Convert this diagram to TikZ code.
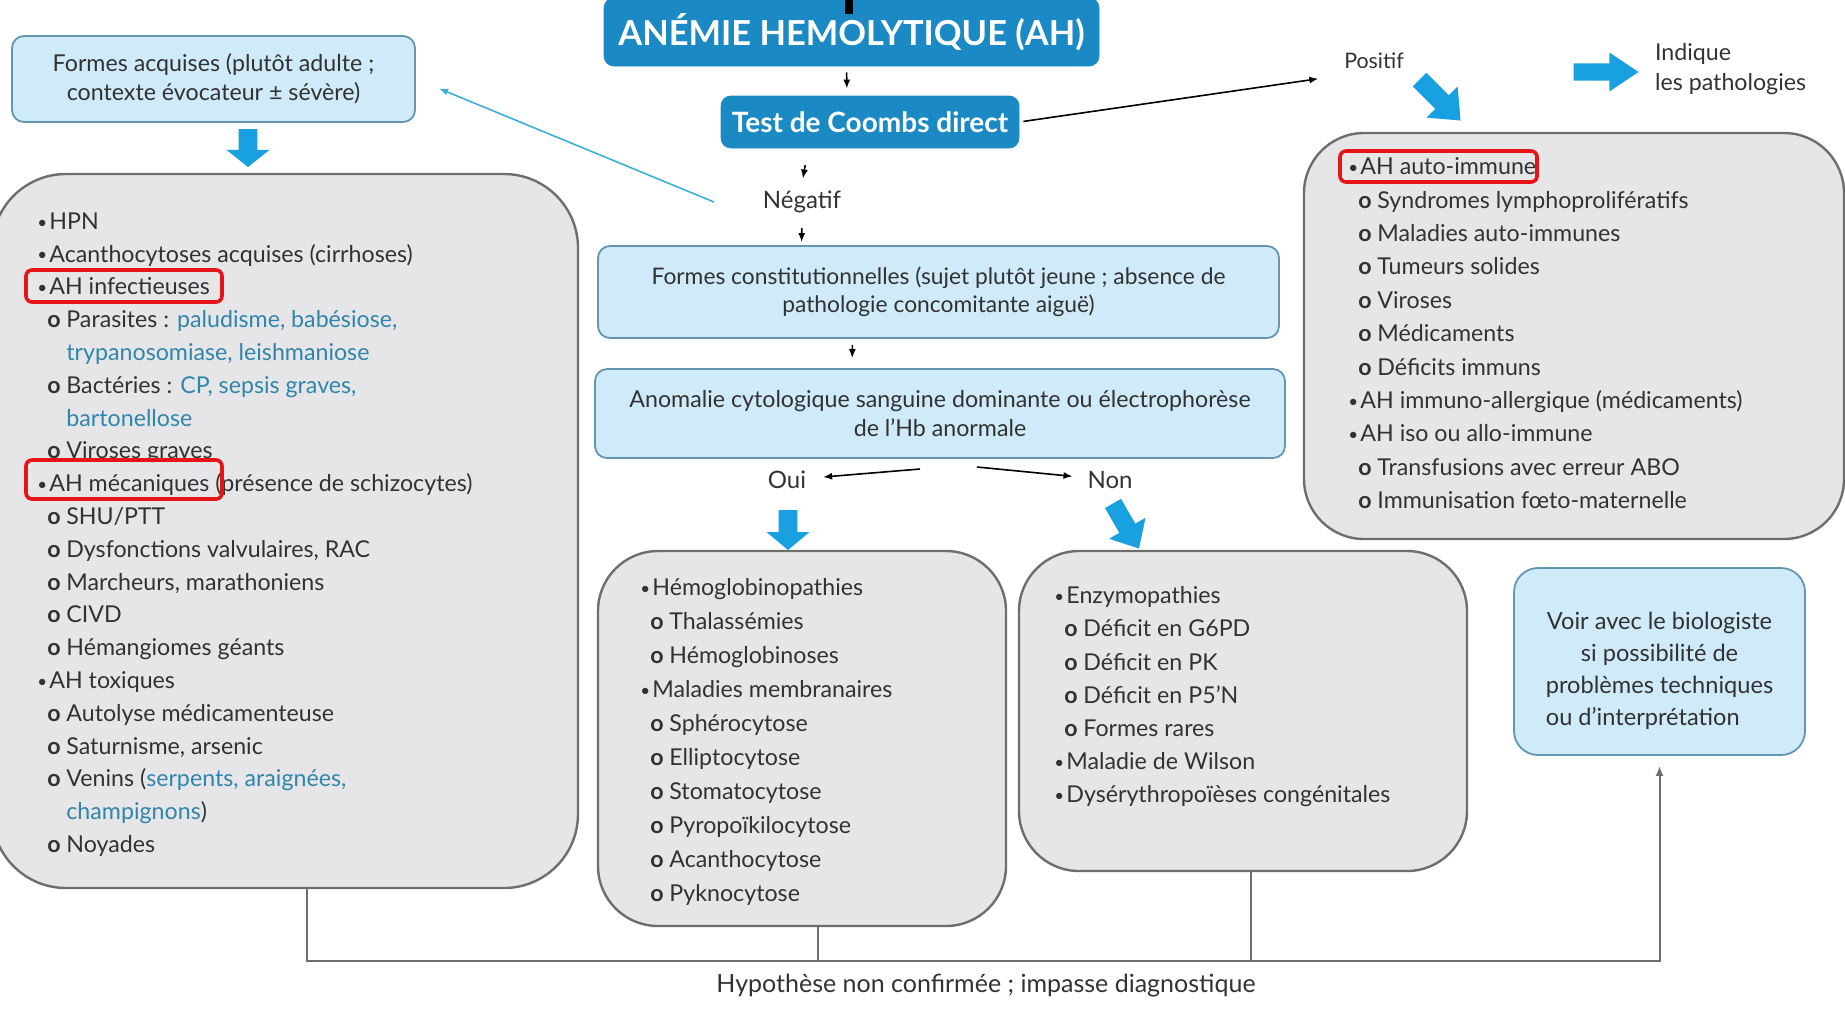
\documentclass[tikz,border=0pt]{standalone}
\usepackage{fontspec}
\setmainfont{Lato}
\usetikzlibrary{positioning, arrows.meta, calc}

\definecolor{titleblue}{RGB}{27,138,196}
\definecolor{paleblue}{RGB}{207,234,248}
\definecolor{paleedge}{RGB}{100,150,178}
\definecolor{boxgray}{RGB}{230,230,232}
\definecolor{edgegray}{RGB}{110,110,110}
\definecolor{fatblue}{RGB}{24,160,224}
\definecolor{linkblue}{RGB}{47,134,170}
\definecolor{cyanline}{RGB}{60,175,215}
\definecolor{txt}{RGB}{50,50,50}
\definecolor{hilite}{RGB}{230,20,25}

\newcommand\itm{\makebox[6pt][l]{\raisebox{0.6pt}{\fontsize{8.5}{8.5}\selectfont\textbullet}}}
\newcommand\sitm{\hspace*{5pt}\makebox[9.5pt][l]{\textbf{o}}}
\newcommand\contline{\hspace*{14.5pt}}
\newcommand\blu[1]{\textcolor{linkblue}{#1}}
\newlength\lastw

\begin{document}
\begin{tikzpicture}[x=0.5pt, y=-0.5pt, font=\fontsize{11.6}{14}\selectfont, text=txt,
    hdr/.style={draw=titleblue, fill=titleblue, rounded corners=5pt, text=white},
    pale/.style={draw=paleedge, fill=paleblue, line width=0.9pt, rounded corners=6pt, align=center},
    grey/.style={draw=edgegray, fill=boxgray, line width=1.2pt, rounded corners=30pt},
    list/.style={anchor=north west, inner sep=0pt, align=left},
    arr/.style={-{Latex[length=4.5pt,width=3.5pt]}, line width=0.8pt, black},
    cyanarr/.style={-{Latex[length=4.5pt,width=3.5pt]}, line width=0.8pt, cyanline},
    link/.style={draw=edgegray, line width=1pt},
    hl/.style={draw=hilite, line width=1.8pt, rounded corners=3pt},
    fatarr/.pic={\fill[fatblue] (-0.5,-0.22) -- (0.05,-0.22) -- (0.05,-0.5) -- (0.5,0) -- (0.05,0.5) -- (0.05,0.22) -- (-0.5,0.22) -- cycle;}]

    \useasboundingbox (0,0) rectangle (1845,1009);

    % --- en-tete ---
    \node[hdr, minimum width=247.5pt, minimum height=34pt, font=\fontsize{17.2}{20}\selectfont\bfseries] (title) at (851.5,32) {ANÉMIE HEMOLYTIQUE (AH)};
    \fill[black] (845,0) rectangle (853,14);
    \node[hdr, minimum width=149pt, minimum height=26pt, font=\fontsize{14}{16}\selectfont\bfseries] (coombs) at (870,122) {Test de Coombs direct};

    \node[font=\fontsize{10.7}{13}\selectfont] (pos) at (1374,61) {Positif};
    \node[font=\fontsize{12}{14}\selectfont] (neg) at (802,202) {Négatif};

    % --- boites bleu pale ---
    \node[pale, minimum width=201.5pt, minimum height=43pt, font=\fontsize{11.6}{14.5}\selectfont] (acq) at (213.5,79) {Formes acquises (plutôt adulte ;\\contexte évocateur ± sévère)};
    \node[pale, minimum width=340.5pt, minimum height=46pt, font=\fontsize{11.4}{14}\selectfont] (cons) at (938.5,292) {Formes constitutionnelles (sujet plutôt jeune ; absence de\\pathologie concomitante aiguë)};
    \node[pale, minimum width=345pt, minimum height=44.5pt, font=\fontsize{11.6}{14.5}\selectfont] (anom) at (940,413.5) {Anomalie cytologique sanguine dominante ou électrophorèse\\de l’Hb anormale};
    \node[pale, rounded corners=12pt, minimum width=145.5pt, minimum height=93.5pt, font=\fontsize{11.8}{16}\selectfont] (voir) at (1659.5,661.5) {\rule{0pt}{18pt}Voir avec le biologiste\\si possibilité de\\problèmes techniques\\\settowidth{\lastw}{problèmes techniques}\makebox[\lastw][l]{ou d’interprétation}};

    \node[font=\fontsize{12}{14}\selectfont] (oui) at (787,480) {Oui};
    \node[font=\fontsize{12}{14}\selectfont] (non) at (1110,480) {Non};

    % --- boites grises ---
    \node[grey, rounded corners=37pt, minimum width=293pt, minimum height=357pt] (lbox) at (285,531) {};
    \node[grey, minimum width=270pt, minimum height=203pt] (rbox) at (1574,336) {};
    \node[grey, minimum width=204pt, minimum height=187.5pt] (mbox) at (802,738.5) {};
    \node[grey, minimum width=224pt, minimum height=160pt] (ebox) at (1243,711) {};

    \node[list, font=\fontsize{11.6}{16.4}\selectfont] (llist) at (37,206) {\strut\itm HPN\\
        \itm Acanthocytoses acquises (cirrhoses)\\
        \itm AH infectieuses\\
        \sitm Parasites : \blu{paludisme, babésiose,}\\
        \contline\blu{trypanosomiase, leishmaniose}\\
        \sitm Bactéries : \blu{CP, sepsis graves,}\\
        \contline\blu{bartonellose}\\
        \sitm Viroses graves\\
        \itm AH mécaniques (présence de schizocytes)\\
        \sitm SHU/PTT\\
        \sitm Dysfonctions valvulaires, RAC\\
        \sitm Marcheurs, marathoniens\\
        \sitm CIVD\\
        \sitm Hémangiomes géants\\
        \itm AH toxiques\\
        \sitm Autolyse médicamenteuse\\
        \sitm Saturnisme, arsenic\\
        \sitm Venins (\blu{serpents, araignées,}\\
        \contline\blu{champignons})\\
        \sitm Noyades};

    \node[list, font=\fontsize{11.6}{16.7}\selectfont] (rlist) at (1348,151) {\strut\itm AH auto-immune\\
        \sitm Syndromes lymphoprolifératifs\\
        \sitm Maladies auto-immunes\\
        \sitm Tumeurs solides\\
        \sitm Viroses\\
        \sitm Médicaments\\
        \sitm Déficits immuns\\
        \itm AH immuno-allergique (médicaments)\\
        \itm AH iso ou allo-immune\\
        \sitm Transfusions avec erreur ABO\\
        \sitm Immunisation fœto-maternelle};

    \node[list, font=\fontsize{11.6}{17}\selectfont] (mlist) at (640,571) {\strut\itm Hémoglobinopathies\\
        \sitm Thalassémies\\
        \sitm Hémoglobinoses\\
        \itm Maladies membranaires\\
        \sitm Sphérocytose\\
        \sitm Elliptocytose\\
        \sitm Stomatocytose\\
        \sitm Pyropoïkilocytose\\
        \sitm Acanthocytose\\
        \sitm Pyknocytose};

    \node[list, font=\fontsize{11.6}{16.6}\selectfont] (elist) at (1054,580) {\strut\itm Enzymopathies\\
        \sitm Déficit en G6PD\\
        \sitm Déficit en PK\\
        \sitm Déficit en P5’N\\
        \sitm Formes rares\\
        \itm Maladie de Wilson\\
        \itm Dysérythropoïèses congénitales};

    % --- encadres rouges ---
    \draw[hl] (26,270) rectangle (222,302);
    \draw[hl] (26,460) rectangle (222,499);
    \draw[hl] (1340,151) rectangle (1537,182);

    % --- fleches epaisses ---
    \pic[rotate=-90, xscale=38, yscale=43] at (248,148) {fatarr};
    \pic[rotate=-90, xscale=40, yscale=43] at (788,530) {fatarr};
    \pic[rotate=-60, xscale=52, yscale=42] at (1126,526) {fatarr};
    \pic[rotate=-45, xscale=58, yscale=44] at (1440,100) {fatarr};
    \pic[xscale=65, yscale=39] at (1606,72) {fatarr};
    \node[align=left, anchor=west, font=\fontsize{11.6}{15}\selectfont] (ind) at (1648,69) {Indique\\les pathologies};

    % --- fleches fines ---
    \draw[arr, shorten <=3pt, shorten >=3.5pt] ([xshift=-2.5pt]title.south) -- ([xshift=-11.5pt]coombs.north);
    \draw[arr, shorten <=8.5pt, shorten >=2.75pt] ([xshift=-31pt]coombs.south) -- (neg.north);
    \draw[arr, shorten <=4pt, shorten >=1.5pt] (neg.south) -- ([xshift=-68.5pt]cons.north);
    \draw[arr, shorten <=3pt, shorten >=5pt] ([xshift=-43pt]cons.south) -- ([xshift=-44pt]anom.north);
    \draw[arr, shorten <=2pt, shorten >=9.5pt] (coombs.east) -- (pos.south west);

    \coordinate (negL) at (714,202);
    \draw[cyanarr, shorten >=12.5pt] (negL) -- (acq.east);

    \coordinate (ouiS) at (920,469);
    \coordinate (nonS) at (977,467);
    \draw[arr, shorten >=5pt] (ouiS) -- (oui);
    \draw[arr, shorten >=4pt] (nonS) -- (non);

    % --- impasse ---
    \coordinate (bus) at (0,961);
    \draw[link, -{Latex[length=5pt,width=4pt]}, shorten >=5pt] ([xshift=11pt]lbox.south) |- (bus -| voir.south) -- (voir.south);
    \coordinate (mdrop) at ([xshift=8pt]mbox.south);
    \coordinate (edrop) at ([xshift=4pt]ebox.south);
    \draw[link] (mdrop) -- (mdrop |- bus);
    \draw[link] (edrop) -- (edrop |- bus);
    \node[font=\fontsize{12.5}{15}\selectfont] (hyp) at (986,986) {Hypothèse non confirmée ; impasse diagnostique};
\end{tikzpicture}
\end{document}
